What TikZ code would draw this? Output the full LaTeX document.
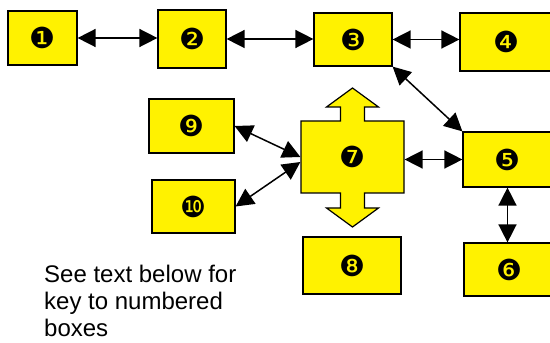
\documentclass[tikz,border=0pt]{standalone}
\usepackage{fontspec}
\setmainfont{Liberation Sans}
\newfontfamily\dingfont{DejaVu Sans}
\usetikzlibrary{arrows.meta,calc}

\tikzset{
	numbox/.style={draw=black, fill=yellow, line width=1.2pt, inner sep=0pt,
		font=\dingfont\fontsize{29}{29}\selectfont},
	biarrow/.style={{Triangle[length=18pt,width=18pt]}-{Triangle[length=18pt,width=18pt]},
		line width=1.5pt}
}

\begin{document}
\begin{tikzpicture}[x=1pt, y=1pt]
	\useasboundingbox (0,0) rectangle (550,343);
	
	% ----- top row
	\node[numbox, minimum width=69pt, minimum height=54pt] (b1) at (42.5,305) {❶};
	\node[numbox, minimum width=68pt, minimum height=58pt] (b2) at (192,304) {❷};
	\node[numbox, minimum width=78pt, minimum height=53pt] (b3) at (353,303.5) {❸};
	\node[numbox, minimum width=92pt, minimum height=58pt] (b4) at (506,301) {❹};
	
	% ----- right column
	\node[numbox, minimum width=89pt, minimum height=55pt] (b5) at (507.5,183.5) {❺};
	\node[numbox, minimum width=90pt, minimum height=53pt] (b6) at (509,73.5) {❻};
	
	% ----- centre: box with up/down arrow
	\draw[fill=yellow, line width=1.2pt, line join=miter]
		(301,150) -- (301,222) -- (340.5,222) -- (340.5,236) -- (326.5,236)
		-- (352.5,255) -- (378.5,236) -- (364.5,236) -- (364.5,222) -- (404,222)
		-- (404,150) -- (364.5,150) -- (364.5,135) -- (378.5,135) -- (352.5,116)
		-- (326.5,135) -- (340.5,135) -- (340.5,150) -- cycle;
	\node[numbox, draw=none, fill=none, minimum width=103pt, minimum height=72pt] (b7) at (352.5,186) {❼};
	\node[numbox, minimum width=98pt, minimum height=57pt] (b8) at (352,77.5) {❽};
	
	% ----- left column
	\node[numbox, minimum width=85pt, minimum height=54pt] (b9) at (191.5,217) {❾};
	\node[numbox, minimum width=83pt, minimum height=53pt] (b10) at (193.5,136.5) {❿};
	
	% connectors
	\draw[biarrow] (b1.east) -- (b1.east -| b2.west);
	\draw[biarrow] (b2.east) -- (b2.east -| b3.west);
	\draw[biarrow] (b3.east) -- (b3.east -| b4.west);
	\draw[biarrow] (b3.south east) -- (b5.north west);
	\draw[biarrow] (b7.east |- b5.west) -- (b5.west);
	\draw[biarrow] (b5.south) -- (b5.south |- b6.north);
	\draw[biarrow] (b9.east) -- (b7.west);
	\draw[biarrow] (b10.east) -- ([yshift=-5pt]b7.west);
	
	% note
	\node[anchor=north west, inner sep=0pt, align=left,
		font=\fontsize{24}{27}\selectfont] (note) at (44,78)
		{See text below for\\key to numbered\\boxes};
	
\end{tikzpicture}
\end{document}
